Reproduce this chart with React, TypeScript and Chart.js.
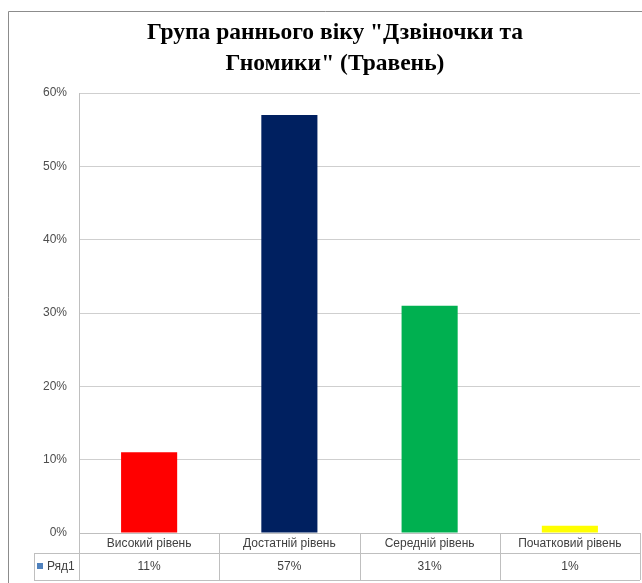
import { useEffect, useRef } from "react";
import { Chart, registerables } from "chart.js";

Chart.register(...registerables);

const titleLines = ['Група раннього віку "Дзвіночки та', 'Гномики" (Травень)'];
const categories = ["Високий рівень", "Достатній рівень", "Середній рівень", "Початковий рівень"];
const seriesName = "Ряд1";
const values = [11, 57, 31, 1];
const barColors = ["#ff0000", "#002060", "#00b050", "#ffff00"];
const yTicks = [0, 10, 20, 30, 40, 50, 60];

const LABEL_FONT = '12px "Liberation Sans", "DejaVu Sans", sans-serif';

const framePlugin = {
  id: "frame",
  beforeDraw(chart: any) {
    const ctx = chart.ctx as CanvasRenderingContext2D;
    ctx.save();
    ctx.fillStyle = "#ffffff";
    ctx.fillRect(0, 0, chart.width, chart.height);
    ctx.strokeStyle = "#8c8c8c";
    ctx.lineWidth = 1;
    ctx.beginPath();
    ctx.moveTo(8.5, chart.height);
    ctx.lineTo(8.5, 11.5);
    ctx.lineTo(chart.width, 11.5);
    ctx.stroke();
    ctx.fillStyle = "#000000";
    ctx.font = 'bold 23.5px "Liberation Serif", "DejaVu Serif", serif';
    ctx.textAlign = "center";
    ctx.textBaseline = "alphabetic";
    titleLines.forEach((t, i) => {
      ctx.fillText(t, 335, 39 + i * 31);
    });
    ctx.restore();
  },
  afterDraw(chart: any) {
    const ctx = chart.ctx as CanvasRenderingContext2D;
    const area = chart.chartArea;
    const xs = chart.scales.x;
    const top = area.bottom;
    const mid = top + 20;
    const bot = top + 47;
    const left = area.left;
    const right = area.right;
    const legendLeft = 34;
    const bounds: number[] = [left];
    for (let i = 0; i < categories.length - 1; i++) {
      bounds.push((xs.getPixelForValue(i) + xs.getPixelForValue(i + 1)) / 2);
    }
    bounds.push(right);
    ctx.save();
    ctx.strokeStyle = "#bfbfbf";
    ctx.lineWidth = 1;
    ctx.beginPath();
    ctx.moveTo(left, Math.round(top) + 0.5);
    ctx.lineTo(right, Math.round(top) + 0.5);
    ctx.moveTo(legendLeft, Math.round(mid) + 0.5);
    ctx.lineTo(right, Math.round(mid) + 0.5);
    ctx.moveTo(legendLeft, Math.round(bot) + 0.5);
    ctx.lineTo(right, Math.round(bot) + 0.5);
    bounds.forEach((b) => {
      ctx.moveTo(Math.round(b) + 0.5, top);
      ctx.lineTo(Math.round(b) + 0.5, bot);
    });
    ctx.moveTo(legendLeft + 0.5, mid);
    ctx.lineTo(legendLeft + 0.5, bot);
    ctx.stroke();

    ctx.fillStyle = "#404040";
    ctx.font = LABEL_FONT;
    ctx.textAlign = "center";
    ctx.textBaseline = "middle";
    categories.forEach((c, i) => {
      const cx = xs.getPixelForValue(i);
      ctx.fillText(c, cx, top + 10.5);
      ctx.fillText(values[i] + "%", cx, mid + 13.5);
    });
    ctx.fillStyle = "#4f81bd";
    ctx.fillRect(37, mid + 10, 6, 6);
    ctx.fillStyle = "#404040";
    ctx.textAlign = "left";
    ctx.fillText(seriesName, 47, mid + 13.5);
    ctx.restore();
  },
};

export default function App() {
  const ref = useRef<HTMLCanvasElement | null>(null);
  useEffect(() => {
    if (!ref.current) return;
    const chart = new Chart(ref.current, {
      type: "bar",
      data: {
        labels: categories,
        datasets: [
          {
            label: seriesName,
            data: values,
            backgroundColor: barColors,
            borderWidth: 0,
            categoryPercentage: 1,
            barPercentage: 0.4,
          },
        ],
      },
      options: {
        animation: false,
        responsive: false,
        layout: { padding: { top: 93, right: 2, bottom: 50, left: 0 } },
        plugins: {
          legend: { display: false },
          tooltip: { enabled: false },
          title: { display: false },
        },
        scales: {
          x: { display: false },
          y: {
            min: 0,
            max: 60,
            afterBuildTicks: (s: any) => {
              s.ticks = yTicks.map((v) => ({ value: v }));
            },
            afterFit: (s: any) => {
              s.width = 79;
            },
            ticks: {
              padding: 12,
              color: "#4d4d4d",
              font: { family: '"Liberation Sans", "DejaVu Sans", sans-serif', size: 12 },
              callback: (v: any) => v + "%",
            },
            grid: { color: "#cfcfcf", drawTicks: false },
            border: { color: "#bfbfbf" },
          },
        },
      },
      plugins: [framePlugin],
    });
    return () => chart.destroy();
  }, []);
  return (
    <div style={{ position: "absolute", left: 0, top: 0, width: 642, height: 583 }}>
      <canvas ref={ref} width={642} height={583} style={{ display: "block" }} />
    </div>
  );
}
